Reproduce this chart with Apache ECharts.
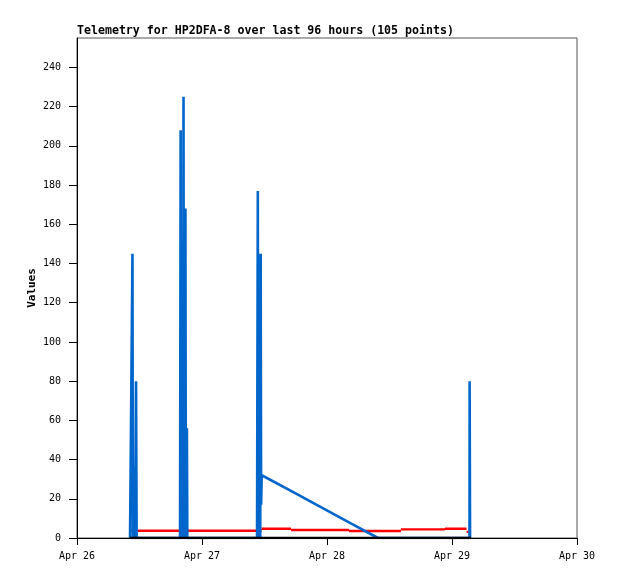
<!DOCTYPE html>
<html>
<head>
<meta charset="utf-8">
<script src="https://cdn.jsdelivr.net/npm/echarts@6/dist/echarts.min.js"></script>
<style>
html, body { margin: 0; padding: 0; background: #fff; }
#chart { width: 618px; height: 579px; }
</style>
</head>
<body>
<div id="chart"></div>
<script>
// blue channel: packet times (UTC) and values
var blueTimes = [
	'2024-04-26T10:11Z', '2024-04-26T10:34Z', '2024-04-26T10:39Z', '2024-04-26T10:44Z',
	'2024-04-26T10:48Z', '2024-04-26T10:52Z', '2024-04-26T10:56Z', '2024-04-26T11:00Z',
	'2024-04-26T11:04Z', '2024-04-26T11:08Z', '2024-04-26T11:14Z', '2024-04-26T11:20Z',
	'2024-04-26T11:27Z', '2024-04-26T15:33Z',
	'2024-04-26T19:47Z', '2024-04-26T19:54Z', '2024-04-26T19:58Z', '2024-04-26T20:02Z',
	'2024-04-26T20:06Z', '2024-04-26T20:10Z', '2024-04-26T20:14Z', '2024-04-26T20:18Z',
	'2024-04-26T20:22Z', '2024-04-26T20:27Z', '2024-04-26T20:31Z', '2024-04-26T20:35Z',
	'2024-04-26T20:39Z', '2024-04-26T20:43Z', '2024-04-26T20:49Z', '2024-04-26T20:54Z',
	'2024-04-26T20:58Z', '2024-04-26T21:02Z', '2024-04-26T21:06Z', '2024-04-26T21:11Z',
	'2024-04-27T03:27Z',
	'2024-04-27T10:34Z', '2024-04-27T10:43Z', '2024-04-27T10:47Z', '2024-04-27T10:51Z',
	'2024-04-27T10:55Z', '2024-04-27T10:59Z', '2024-04-27T11:03Z', '2024-04-27T11:07Z',
	'2024-04-27T11:11Z', '2024-04-27T11:16Z', '2024-04-27T11:21Z', '2024-04-27T11:28Z',
	'2024-04-27T17:05Z', '2024-04-28T04:13Z', '2024-04-28T09:48Z', '2024-04-28T14:12Z',
	'2024-04-28T22:39Z', '2024-04-29T03:22Z', '2024-04-29T03:23Z', '2024-04-29T03:27Z',
	'2024-04-29T03:28Z', '2024-04-29T03:39Z'
];
var blueVals = [
	0, 0, 145, 0,
	36, 0, 36, 0,
	36, 0, 36, 80,
	0, 0,
	0, 208, 0, 145,
	0, 145, 0, 145,
	0, 225, 0, 145,
	0, 145, 168, 0,
	56, 0, 56, 0,
	0,
	0, 177, 0, 145,
	0, 145, 0, 145,
	0, 145, 17, 32,
	24, 8, 0, 0,
	0, 0, 80, 80,
	0, 0
];
// red channel: held levels, one run per level, null breaks between runs
var redTimes = [
	'2024-04-26T10:11Z', '2024-04-26T10:20Z', '2024-04-26T10:20Z',
	'2024-04-26T10:20Z', '2024-04-27T11:25Z', '2024-04-27T11:25Z',
	'2024-04-27T11:25Z', '2024-04-27T17:05Z', '2024-04-27T17:05Z',
	'2024-04-27T17:05Z', '2024-04-28T04:13Z', '2024-04-28T04:13Z',
	'2024-04-28T04:13Z', '2024-04-28T14:12Z', '2024-04-28T14:12Z',
	'2024-04-28T14:12Z', '2024-04-28T22:39Z', '2024-04-28T22:39Z',
	'2024-04-28T22:39Z', '2024-04-29T02:47Z', '2024-04-29T02:47Z',
	'2024-04-29T02:47Z', '2024-04-29T03:10Z', '2024-04-29T03:10Z',
	'2024-04-29T03:10Z', '2024-04-29T03:39Z'
];
var redVals = [
	4.6, 4.6, null,
	3.7, 3.7, null,
	4.7, 4.7, null,
	4.1, 4.1, null,
	3.6, 3.6, null,
	4.4, 4.4, null,
	4.7, 4.7, null,
	3.1, 3.1, null,
	4.7, 4.7
];
// black channel stays at zero
var blackTimes = ['2024-04-26T10:11Z', '2024-04-29T03:39Z'];
var blackVals = [0, 0];

var yTicks = [0, 20, 40, 60, 80, 100, 120, 140, 160, 180, 200, 220, 240];
var dayTicks = ['2024-04-26T00:00Z', '2024-04-27T00:00Z', '2024-04-28T00:00Z', '2024-04-29T00:00Z', '2024-04-30T00:00Z'];
var months = ['Jan','Feb','Mar','Apr','May','Jun','Jul','Aug','Sep','Oct','Nov','Dec'];

var mono = '"DejaVu Sans Mono", monospace';

function pairs(ts, vals) {
	return vals.map(function (v, i) { return [Date.parse(ts[i]), v === null ? '-' : v]; });
}
var dayMs = dayTicks.map(function (d) { return Date.parse(d); });

var chart = echarts.init(document.getElementById('chart'), null, {renderer: 'canvas'});
var option = {
	animation: false,
	backgroundColor: '#fff',
	title: {
		text: 'Telemetry for HP2DFA-8 over last 96 hours (105 points)',
		left: 77,
		top: 25,
		padding: 0,
		textStyle: {fontFamily: mono, fontSize: 11.6, fontWeight: 'bold', color: '#000'}
	},
	grid: {
		left: 77, right: 41, top: 38, bottom: 41,
		show: true, borderColor: '#555', borderWidth: 1, backgroundColor: '#fff'
	},
	xAxis: {
		type: 'value',
		min: dayMs[0],
		max: dayMs[dayMs.length - 1],
		interval: 86400000,
		axisLine: {lineStyle: {color: '#000', width: 1}},
		axisTick: {length: 7, lineStyle: {color: '#000'}, customValues: dayMs},
		splitLine: {show: false},
		axisLabel: {
			customValues: dayMs,
			margin: 13,
			fontFamily: mono, fontSize: 10, color: '#000',
			formatter: function (v) {
				var d = new Date(v);
				return months[d.getUTCMonth()] + ' ' + d.getUTCDate();
			}
		}
	},
	yAxis: {
		type: 'value',
		min: 0,
		max: 255,
		name: 'Values',
		nameLocation: 'middle',
		nameGap: 39,
		nameRotate: 90,
		nameMoveOverlap: false,
		nameTextStyle: {fontFamily: mono, fontSize: 11, fontWeight: 'bold', color: '#000'},
		axisLine: {show: true, lineStyle: {color: '#000', width: 1}},
		axisTick: {show: true, length: 8, lineStyle: {color: '#000'}, customValues: yTicks},
		splitLine: {show: false},
		axisLabel: {customValues: yTicks, margin: 16, fontFamily: mono, fontSize: 10, color: '#000'}
	},
	series: [
		{
			type: 'line', data: pairs(redTimes, redVals), showSymbol: false, symbol: 'none',
			connectNulls: false,
			lineStyle: {color: '#ff0000', width: 2.4}, z: 2
		},
		{
			type: 'line', data: pairs(blueTimes, blueVals), showSymbol: false, symbol: 'none',
			lineStyle: {color: '#0066cc', width: 2.6}, z: 3
		},
		{
			type: 'line', data: pairs(blackTimes, blackVals), showSymbol: false, symbol: 'none',
			lineStyle: {color: '#000', width: 2.4}, z: 4
		}
	]
};
chart.setOption(option);
</script>
</body>
</html>
